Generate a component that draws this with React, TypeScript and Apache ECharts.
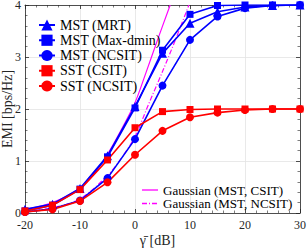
import React, { useEffect, useRef } from "react";
import * as echarts from "echarts";

const gamma = [-20, -15, -10, -5, 0, 5, 10, 15, 20, 25, 30];
const mstMRT = [0.07, 0.17, 0.47, 1.1, 2.05, 3.07, 3.65, 3.87, 3.96, 3.99, 4.0];
const mstMaxDmin = [0.04, 0.15, 0.46, 1.08, 2.02, 3.13, 3.82, 3.99, 4.0, 4.0, 4.0];
const mstNCSIT = [0.02, 0.08, 0.24, 0.67, 1.42, 2.45, 3.33, 3.78, 3.94, 3.99, 4.0];
const sstCSIT = [0.04, 0.15, 0.45, 1.02, 1.64, 1.95, 1.99, 2.0, 2.0, 2.0, 2.0];
const sstNCSIT = [0.02, 0.07, 0.23, 0.59, 1.12, 1.58, 1.84, 1.93, 1.98, 2.0, 2.0];

const gaussCSITx = [-20, -15, -10, -7.5, -5, -2.5, 0, 2, 4, 6.4];
const gaussCSITy = [0.07, 0.2, 0.48, 0.75, 1.13, 1.6, 2.12, 2.7, 3.3, 4.0];
const gaussNCSITx = [-20, -15, -10, -5, -2.5, 0, 2.5, 5, 7.5, 9.8];
const gaussNCSITy = [0.03, 0.1, 0.27, 0.72, 1.05, 1.47, 2.1, 2.72, 3.37, 4.0];

const legendMain = ["MST (MRT)", "MST (Max-dmin)", "MST (NCSIT)", "SST (CSIT)", "SST (NCSIT)"];
const legendGauss = ["Gaussian (MST, CSIT)", "Gaussian (MST, NCSIT)"];

const xTicks = { min: -20, max: 30, interval: 10 };
const yTicks = { min: 0, max: 4, interval: 1 };

const FONT = "Liberation Serif";
const AX = "#262626";

const pairs = (xs: number[], ys: number[]) => xs.map((x, i) => [x, ys[i]]);

const SOLID_ICON = "path://M0,0 L16,0 L16,1.3 L0,1.3 Z";
const DASH_ICON =
  "path://M0,0 L5,0 L5,1.3 L0,1.3 Z M7,0 L8,0 L8,1.3 L7,1.3 Z M10,0 L15,0 L15,1.3 L10,1.3 Z M16,0 L16.01,0 L16.01,1.3 L16,1.3 Z";

export default function App() {
  const ref = useRef<HTMLDivElement>(null);
  useEffect(() => {
    document.body.style.margin = "0";
    if (!ref.current) return;
    const chart = echarts.init(ref.current, undefined, { renderer: "svg" });
    const axisCommon = {
      type: "value" as const,
      axisLine: { show: true, onZero: false, lineStyle: { color: AX, width: 0.8 } },
      axisTick: { show: true, inside: true, length: 4, lineStyle: { color: AX, width: 0.8 } },
      minorTick: { show: true, splitNumber: 5, length: 2.5, lineStyle: { color: AX, width: 0.6 } },
    };
    const blue = "#0000ff";
    const red = "#ff0000";
    const mag = "#ff00ff";
    const legText = { fontFamily: FONT, fontSize: 13, color: "#000", fontWeight: "normal" as const };
    const legText1 = { ...legText, fontSize: 14 };
    const mk = (name: string, ys: number[], color: string, symbol: string, size: number) => ({
      name,
      type: "line",
      data: pairs(gamma, ys),
      symbol,
      symbolSize: size,
      lineStyle: { color, width: 1.6 },
      itemStyle: { color },
      z: 3,
    });
    chart.setOption({
      animation: false,
      textStyle: { fontFamily: FONT },
      grid: { left: 25, right: 8, top: 5, bottom: 36, outerBoundsMode: "none", containLabel: false },
      legend: [
        {
          orient: "vertical",
          left: 33,
          top: 13,
          itemWidth: 16,
          itemHeight: 14,
          itemGap: 1.25,
          textStyle: legText1,
          data: legendMain.map((name) => ({ name, textStyle: legText1 })),
        },
        {
          orient: "vertical",
          left: 137,
          top: 178.5,
          itemWidth: 16,
          itemHeight: 14,
          itemGap: 0.5,
          textStyle: legText,
          data: [
            { name: legendGauss[0], icon: SOLID_ICON, textStyle: legText },
            { name: legendGauss[1], icon: DASH_ICON, textStyle: legText },
          ],
        },
      ],
      xAxis: [
        {
          ...axisCommon,
          ...xTicks,
          position: "bottom",
          splitLine: { show: true, lineStyle: { color: "#e3e3e3", width: 0.8 } },
          axisLabel: { fontFamily: FONT, fontSize: 12, color: AX, margin: 6 },
          name: "\u03B3\u0304 [dB]",
          nameLocation: "middle",
          nameGap: 20,
          nameMoveOverlap: false,
          nameTextStyle: { fontFamily: FONT, fontSize: 14, color: AX, padding: [0, 10, 0, 0] },
        },
        {
          ...axisCommon,
          ...xTicks,
          position: "top",
          splitLine: { show: false },
          axisLabel: { show: false },
        },
      ],
      yAxis: [
        {
          ...axisCommon,
          ...yTicks,
          position: "left",
          splitLine: { show: true, lineStyle: { color: "#e3e3e3", width: 0.8 } },
          axisLabel: { fontFamily: FONT, fontSize: 12, color: AX, margin: 4 },
          name: "EMI [bps/Hz]",
          nameLocation: "middle",
          nameGap: 11,
          nameMoveOverlap: false,
          nameTextStyle: { fontFamily: FONT, fontSize: 14, color: AX },
        },
        {
          ...axisCommon,
          ...yTicks,
          position: "right",
          splitLine: { show: false },
          axisLabel: { show: false },
        },
      ],
      series: [
        {
          name: legendGauss[0],
          type: "line",
          data: pairs(gaussCSITx, gaussCSITy),
          showSymbol: false,
          symbol: "none",
          smooth: 0.3,
          lineStyle: { color: mag, width: 1.2 },
          itemStyle: { color: mag },
          z: 2,
        },
        {
          name: legendGauss[1],
          type: "line",
          data: pairs(gaussNCSITx, gaussNCSITy),
          showSymbol: false,
          symbol: "none",
          smooth: 0.3,
          lineStyle: { color: mag, width: 1.2, type: [5, 2, 1, 2] },
          itemStyle: { color: mag },
          z: 2,
        },
        mk(legendMain[0], mstMRT, blue, "triangle", 9),
        mk(legendMain[1], mstMaxDmin, blue, "rect", 7),
        mk(legendMain[2], mstNCSIT, blue, "circle", 8),
        mk(legendMain[3], sstCSIT, red, "rect", 7),
        mk(legendMain[4], sstNCSIT, red, "circle", 8),
      ],
    });
    return () => chart.dispose();
  }, []);
  return <div ref={ref} style={{ width: 308, height: 249 }} />;
}
